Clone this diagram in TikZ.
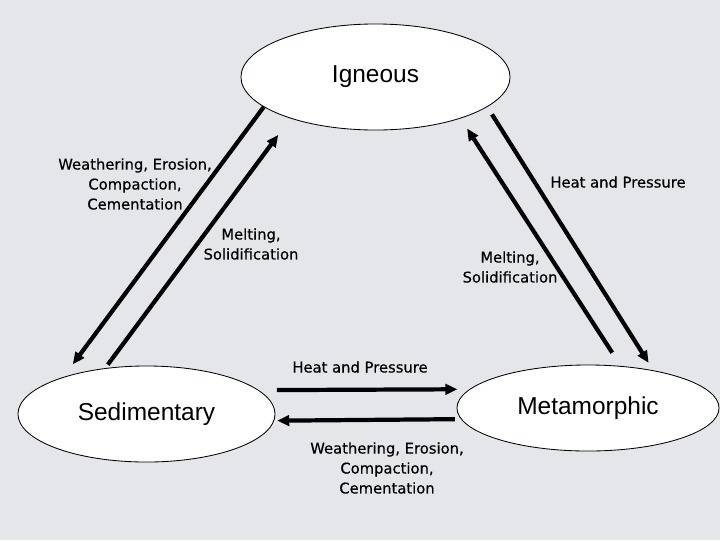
\documentclass[tikz,border=0pt]{standalone}
\usepackage{fontspec}
\setmainfont{Liberation Sans}
\newfontfamily\labelfont[FakeBold=0.5]{DejaVu Sans}
\usetikzlibrary{shapes.geometric,arrows.meta}
\definecolor{marble}{RGB}{229,230,234}

\begin{document}
\begin{tikzpicture}[x=0.025cm,y=-0.025cm,>={Triangle[length=3mm,width=2.6mm]},
  rock/.style={ellipse,draw,line width=0.6pt,fill=white,inner sep=0pt,
    font=\fontsize{17.4}{20}\selectfont},
  process/.style={align=center,font=\labelfont\fontsize{10.5}{14.2}\selectfont},
  rockflow/.style={->,line width=3pt}]
  \fill[marble] (0,0) rectangle (720,540);
  \useasboundingbox (0,0) rectangle (720,540);
  % the three rock types
  \node[rock,minimum width=6.725cm,minimum height=2.65cm] (ign) at (375.5,77) {Igneous};
  \node[rock,minimum width=6.425cm,minimum height=2.4cm] (sed) at (146.5,414) {Sedimentary};
  \node[rock,minimum width=6.55cm,minimum height=2.15cm] (met) at (588,408) {Metamorphic};
  % processes
  \node[process] (wl) at (135,184) {Weathering, Erosion,\\Compaction,\\Cementation};
  \node[process] (ml) at (251,244) {Melting,\\Solidification};
  \node[process] (hr) at (618,182) {Heat and Pressure};
  \node[process] (mr) at (510,267) {Melting,\\Solidification};
  \node[process] (hb) at (360,367) {Heat and Pressure};
  \node[process] (wb) at (387,468) {Weathering, Erosion,\\Compaction,\\Cementation};
  \path[rockflow]
    (ign.195.4) edge[shorten >=3.95mm] (sed.156.6)
    (sed.132.1) edge[shorten <=1.1mm,shorten >=5.1mm] (ign.206.6)
    (ign.345.3) edge[shorten <=2.2mm,shorten >=2.2mm] (met.30.6)
    (met.52.1) edge[shorten <=3.95mm,shorten >=3mm] (ign.334.6)
    (sed.12.2) edge[shorten <=4.55mm,shorten >=3mm] (met.171.4)
    (met.185.4) edge[shorten <=1.5mm,shorten >=0.75mm] (sed.357.3);
\end{tikzpicture}
\end{document}
